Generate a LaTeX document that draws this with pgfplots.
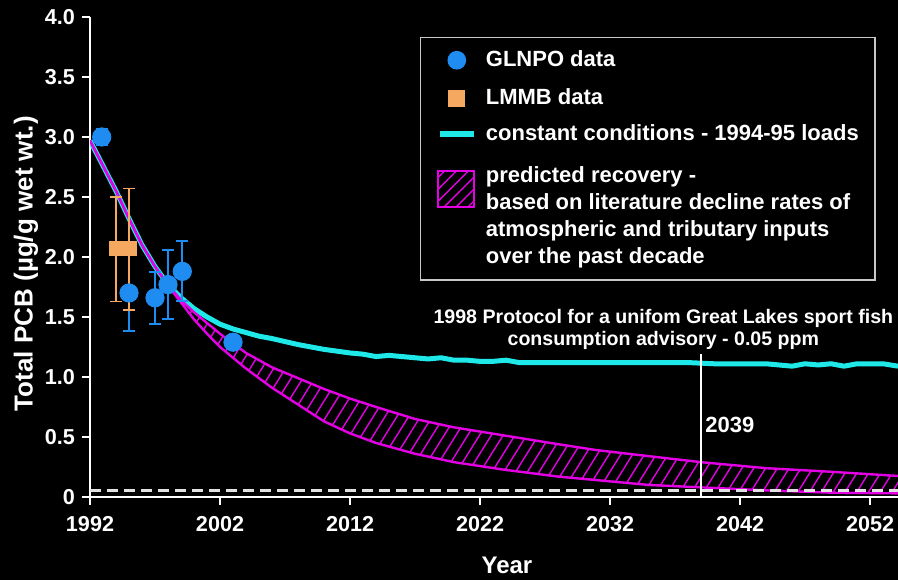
\documentclass[border=0pt]{standalone}
\usepackage{fontspec}
\setmainfont{Liberation Sans}[UprightFont={* Bold}]
\usepackage{xcolor}
\usepackage{pgfplots}
\pgfplotsset{compat=1.18}
\usepgfplotslibrary{fillbetween}
\usetikzlibrary{patterns.meta}
\definecolor{blueC}{RGB}{30,140,240}
\definecolor{orangeC}{RGB}{245,168,96}
\definecolor{cyanC}{RGB}{30,232,232}
\definecolor{magentaC}{RGB}{228,0,228}
\definecolor{dashC}{RGB}{225,225,225}
\definecolor{frameC}{RGB}{200,200,200}

\pgfplotstableread{
x y
1992 2.97
1993 2.76
1994 2.55
1995 2.32
1996 2.10
1997 1.92
1998 1.77
1999 1.66
2000 1.57
2001 1.50
2002 1.44
2003 1.40
2004 1.37
2005 1.34
2006 1.32
2008 1.27
2010 1.23
2012 1.20
2013 1.19
2014 1.17
2015 1.18
2016 1.17
2017 1.16
2018 1.15
2019 1.16
2020 1.14
2021 1.14
2022 1.13
2023 1.13
2024 1.14
2025 1.12
2026 1.12
2028 1.12
2030 1.12
2032 1.12
2034 1.12
2036 1.12
2038 1.12
2040 1.11
2042 1.11
2044 1.11
2045 1.10
2046 1.09
2047 1.11
2048 1.10
2049 1.11
2050 1.09
2051 1.11
2052 1.11
2053 1.11
2054.15 1.09
}\constant

\pgfplotstableread{
x y
1992 2.97
1993 2.76
1994 2.55
1995 2.32
1996 2.10
1997 1.92
1998 1.77
1999 1.64
2000 1.54
2001 1.45
2002 1.36
2003 1.28
2004 1.20
2005 1.14
2006 1.08
2008 0.99
2010 0.90
2012 0.82
2014 0.75
2017 0.65
2020 0.58
2024 0.51
2028 0.44
2031 0.39
2035 0.34
2039 0.29
2044 0.24
2049 0.21
2054.15 0.175
}\upperband

\pgfplotstableread{
x y
1992 2.97
1993 2.76
1994 2.55
1995 2.32
1996 2.10
1997 1.92
1998 1.76
1999 1.62
2000 1.48
2001 1.36
2002 1.25
2003 1.16
2004 1.07
2005 0.99
2006 0.91
2008 0.77
2010 0.63
2012 0.53
2014 0.45
2017 0.36
2020 0.29
2024 0.225
2028 0.17
2031 0.14
2035 0.10
2039 0.08
2044 0.055
2049 0.036
2054.15 0.03
}\lowerband

\pagecolor{black}
\begin{document}%
\begin{tikzpicture}
\begin{axis}[
  width=404pt, height=240pt, scale only axis,
  xmin=1992, xmax=2054.15, ymin=0, ymax=4,
  axis lines=left,
  axis line style={-, white, line width=1pt},
  xtick={1992,2002,2012,2022,2032,2042,2052},
  xticklabels={1992,2002,2012,2022,2032,2042,2052},
  ytick={0,0.5,1,1.5,2,2.5,3,3.5,4},
  yticklabels={0,0.5,1.0,1.5,2.0,2.5,3.0,3.5,4.0},
  tick align=outside, major tick length=4pt,
  tick style={white, line width=0.8pt},
  tick label style={text=white, font=\fontsize{10.8}{13}\selectfont},
  xticklabel style={yshift=-2pt},
  xlabel={Year}, ylabel={Total PCB (µg/g wet wt.)},
  xlabel style={text=white, font=\fontsize{12}{14}\selectfont, at={(axis description cs:0.516,-0.1417)}, anchor=center},
  ylabel style={text=white, font=\fontsize{13}{15}\selectfont, at={(axis description cs:-0.0792,0.486)}, anchor=center},
  legend style={at={(0.4084,0.9583)}, anchor=north west, fill=black, draw=frameC, line width=0.75pt,
    text=white, font=\fontsize{11}{13.5}\selectfont, inner xsep=8pt, inner ysep=6.5pt,
    row sep=0pt, column sep=4.5pt, nodes={inner sep=0pt}},
  legend cell align=left,
]
\coordinate (BL) at (rel axis cs:-0.1114,-0.1729);
\coordinate (TR) at (rel axis cs:1,1.0354);

% constant conditions
\addplot[cyanC, line width=2.5pt, forget plot] table {\constant};
% predicted recovery band
\addplot[name path=up, magentaC, line width=1.2pt, forget plot] table {\upperband};
\addplot[name path=lo, magentaC, line width=1.2pt, forget plot] table {\lowerband};
\addplot[draw=none, pattern={Lines[angle=58,distance=5pt,line width=0.7pt]}, pattern color=magentaC, forget plot] fill between[of=up and lo];

% advisory dashed line and 2039 marker
\addplot[dashC, line width=1.5pt, dash pattern=on 5.5pt off 3pt, forget plot] coordinates {(1992,0.05) (2054.15,0.05)};
\addplot[white, line width=1pt, forget plot] coordinates {(2039,0) (2039,1.19)};

% GLNPO error bars
\addplot[blueC, only marks, mark=none, forget plot,
  error bars/.cd, y dir=both, y explicit,
  error bar style={line width=1pt, blueC},
  error mark options={rotate=90, mark size=3pt, line width=1pt, blueC}]
  coordinates {
  (1992.9,3.00) +- (0,0.07)
  (1995.0,1.70) += (0,0) -= (0,0.32)
  (1997.0,1.66) +- (0,0.215)
  (1998.0,1.77) +- (0,0.285)
  (1999.1,1.88) +- (0,0.25)
  (2003.0,1.29) +- (0,0)
  };
% LMMB
\addplot[orangeC, only marks, mark=square*, mark size=3.5pt, forget plot,
  error bars/.cd, y dir=both, y explicit,
  error bar style={line width=0.8pt, orangeC},
  error mark options={rotate=90, mark size=3pt, line width=0.8pt, orangeC}]
  coordinates {
  (1994.0,2.07) += (0,0.43) -= (0,0.44)
  (1995.0,2.07) += (0,0.50) -= (0,0.51)
  };
% GLNPO marks
\addplot[blueC, only marks, mark=*, mark size=4.6pt, forget plot]
  coordinates {(1992.9,3.00) (1995.0,1.70) (1997.0,1.66) (1998.0,1.77) (1999.1,1.88) (2003.0,1.29)};

\node[text=white, align=center, font=\fontsize{9.8}{11}\selectfont] at (axis cs:2036.1,1.40)
  {1998 Protocol for a unifom Great Lakes sport fish\\consumption advisory - 0.05 ppm};
\node[text=white, anchor=west, font=\fontsize{11}{13}\selectfont, inner sep=0pt] at (axis cs:2039.3,0.6) {2039};

% legend
\addlegendimage{only marks, mark=*, mark size=4.3pt, blueC}
\addlegendentry{\rule{0pt}{8pt}GLNPO data}
\addlegendimage{only marks, mark=square*, mark size=3.9pt, orangeC, legend image post style={yshift=-4.8pt}}
\addlegendentry{\rule{0pt}{17.6pt}LMMB data}
\addlegendimage{cyanC, line width=3pt, legend image post style={yshift=-4.05pt}}
\addlegendentry{\rule{0pt}{16.1pt}constant conditions - 1994-95 loads\hspace{1.5pt}}
\addlegendimage{legend image code/.code={
  \path (0pt,0pt) -- (17pt,0pt);
  \path[overlay, draw=magentaC, line width=1.2pt, pattern={Lines[angle=45,distance=4.2pt,line width=0.7pt]}, pattern color=magentaC]
    (-1pt,-21.3pt) rectangle (17pt,-3.3pt);}}
\addlegendentry{\rule{0pt}{19.6pt}predicted recovery -}
\addlegendimage{empty legend}
\addlegendentry{\rule{0pt}{12.1pt}based on literature decline rates of}
\addlegendimage{empty legend}
\addlegendentry{\rule{0pt}{12.1pt}atmospheric and tributary inputs}
\addlegendimage{empty legend}
\addlegendentry{\rule{0pt}{12.1pt}over the past decade}
\end{axis}
\pgfresetboundingbox
\path (BL) rectangle (TR);
\end{tikzpicture}%
\end{document}
